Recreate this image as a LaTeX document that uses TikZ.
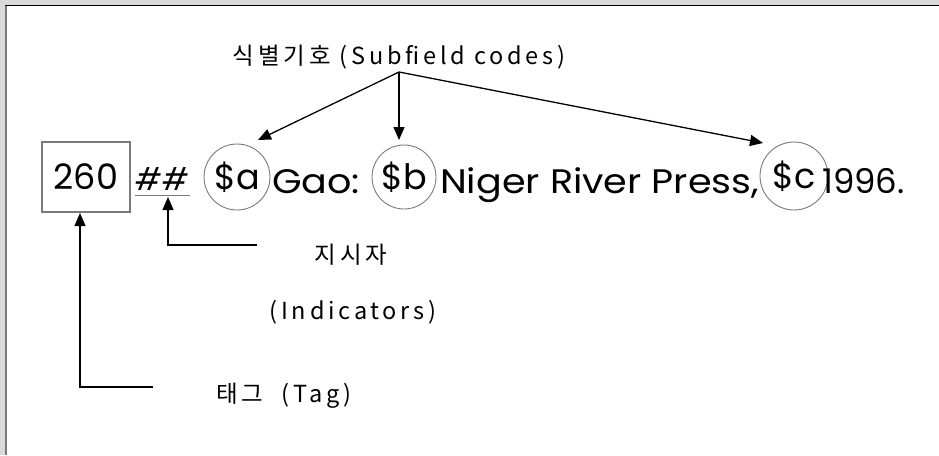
\documentclass[tikz,border=0pt]{standalone}
\usepackage{fontspec}
\setmainfont{Poppins}
\newfontfamily\widefont[FakeStretch=1.12]{Poppins}
\newfontfamily\kfont[LetterSpace=16]{Noto Sans CJK KR}
\usetikzlibrary{arrows.meta}
\definecolor{edgegray}{HTML}{7A7A7A}
\definecolor{stripgray}{HTML}{DADADA}
\tikzset{
  mainline/.style={font=\widefont\fontsize{34}{37}\selectfont, inner sep=0pt, text=black},
  codecircle/.style={circle, draw=edgegray, line width=0.9pt, inner sep=0pt, font=\fontsize{35}{37}\selectfont},
  tagbox/.style={draw=edgegray, line width=1.3pt, minimum width=88pt, minimum height=70pt, inner sep=0pt, font=\fontsize{35}{37}\selectfont},
  lbl/.style={font=\kfont\fontsize{23.5}{26}\selectfont, inner sep=0pt},
  arr/.style={line width=1.3pt, -{Triangle[length=13pt,width=11pt]}}
}
\begin{document}
\begin{tikzpicture}[x=1pt,y=-1pt]
\useasboundingbox (0,0) rectangle (939,455);
% frame
\fill[stripgray] (0,0) rectangle (939,5);
\fill[stripgray] (0,0) rectangle (5,455);
\fill[edgegray] (4.5,5) rectangle (7,455);
\draw[black, line width=1.6pt] (5,5.6) -- (939,5.6);
% main line
\node[tagbox] (tag) at (86,177) {260};
\node[mainline, font=\fontsize{31}{33}\selectfont\itshape] (ind) at (162,179) {\#\#};
\draw[edgegray, line width=1pt] (135,195) -- (190,195);
\node[codecircle, minimum size=66pt] (sa) at (237,177) {\$a};
\node[mainline, anchor=base west] (gao) at (272,193) {Gao:};
\node[codecircle, minimum size=64pt] (sb) at (404,177) {\$b};
\node[mainline, anchor=base west] (niger) at (440,193) {Niger River Press,};
\node[codecircle, minimum size=68pt] (sc) at (794,176) {\$c};
\node[mainline, font=\fontsize{34}{36}\selectfont, anchor=base west] (year) at (822,193) {1996.};
% labels
\node[lbl] (subf) at (399,57) {식별기호 (Subfield codes)};
\node[lbl] (indk) at (351,255) {지시자};
\node[lbl] (inde) at (353,312) {(Indicators)};
\node[lbl] (tagl) at (284,396) {태그 \ (Tag)};
% connector ends
\coordinate (hub) at (399,72);
\coordinate (ta) at (258,140);
\coordinate (tb) at (399,140);
\coordinate (tc) at (763,143);
\coordinate (indc) at (257,245);
\coordinate (indtip) at (168,197);
\coordinate (tagc) at (153,387);
\coordinate (tagtip) at (80,213);
\draw[arr] (hub) -- (ta);
\draw[arr] (hub) -- (tb);
\draw[arr] (hub) -- (tc);
\draw[arr] (indc) -| (indtip);
\draw[arr] (tagc) -| (tagtip);
\end{tikzpicture}
\end{document}
